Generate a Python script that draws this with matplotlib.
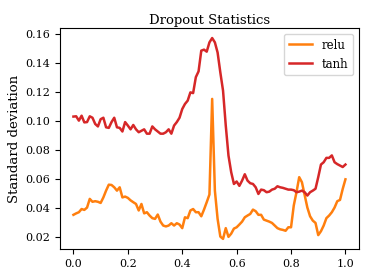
import numpy as np
import matplotlib
matplotlib.use('Agg')
import matplotlib.pyplot as plt

plt.rcParams['font.family'] = 'DejaVu Serif'

# dropout rate, 0.00 .. 1.00 in steps of 0.01
rates = [i / 100 for i in range(101)]

relu_std = [
    0.035, 0.036, 0.0368, 0.039, 0.0384, 0.040, 0.046, 0.044, 0.0444, 0.044,
    0.0432, 0.047, 0.0517, 0.0558, 0.0556, 0.054, 0.0517, 0.054, 0.047, 0.0476,
    0.0467, 0.045, 0.0437, 0.0425, 0.038, 0.0425, 0.036, 0.0368, 0.0345, 0.0327,
    0.0322, 0.0352, 0.0303, 0.0276, 0.027, 0.0276, 0.0292, 0.0276, 0.0292, 0.0283,
    0.0258, 0.0333, 0.0327, 0.038, 0.039, 0.0368, 0.0368, 0.034, 0.0386, 0.0437,
    0.049, 0.115, 0.0517, 0.0322, 0.020, 0.0184, 0.0258, 0.0198, 0.022, 0.0255,
    0.0264, 0.0283, 0.0303, 0.0333, 0.0345, 0.0356, 0.0386, 0.0375, 0.035, 0.035,
    0.0317, 0.031, 0.0303, 0.0294, 0.0276, 0.0258, 0.025, 0.0246, 0.024, 0.0264,
    0.0264, 0.0414, 0.0506, 0.061, 0.0575, 0.0487, 0.040, 0.034, 0.031, 0.0294,
    0.021, 0.0237, 0.0276, 0.0327, 0.0345, 0.0368, 0.040, 0.0444, 0.0453, 0.0529,
    0.0595,
]

tanh_std = [
    0.1028, 0.103, 0.100, 0.1034, 0.0988, 0.099, 0.103, 0.102, 0.0977, 0.096,
    0.101, 0.102, 0.0954, 0.095, 0.099, 0.102, 0.0954, 0.095, 0.0925, 0.099,
    0.0966, 0.094, 0.097, 0.094, 0.092, 0.093, 0.094, 0.091, 0.091, 0.096,
    0.094, 0.0925, 0.091, 0.091, 0.092, 0.094, 0.091, 0.0966, 0.099, 0.102,
    0.108, 0.1115, 0.1138, 0.1195, 0.119, 0.130, 0.134, 0.1483, 0.149, 0.1476,
    0.154, 0.157, 0.154, 0.147, 0.1333, 0.1207, 0.0966, 0.0759, 0.0644, 0.0563,
    0.058, 0.055, 0.0586, 0.063, 0.0586, 0.0568, 0.0563, 0.054, 0.0494, 0.0524,
    0.052, 0.0506, 0.051, 0.0524, 0.053, 0.0547, 0.054, 0.0536, 0.053, 0.0524,
    0.0524, 0.052, 0.0506, 0.051, 0.0517, 0.0506, 0.0483, 0.0506, 0.0517, 0.053,
    0.061, 0.0697, 0.0713, 0.0743, 0.0743, 0.076, 0.0713, 0.070, 0.069, 0.068,
    0.0697,
]

fig = plt.figure(figsize=(3.74, 2.8), dpi=100)
ax = fig.add_axes([0.16, 0.111, 0.8, 0.789])

ax.plot(rates, relu_std, color='#ff7f0e', linewidth=1.8, label='relu')
ax.plot(rates, tanh_std, color='#d62728', linewidth=1.8, label='tanh')

ax.set_title("Dropout Statistics", fontsize=9.5, pad=3)
ax.set_ylabel("Standard deviation", fontsize=9.5, labelpad=3)
ax.set_xticks([0.0, 0.2, 0.4, 0.6, 0.8, 1.0])
ax.set_yticks([0.02, 0.04, 0.06, 0.08, 0.10, 0.12, 0.14, 0.16])
ax.tick_params(labelsize=8)
ax.legend(loc='upper right', fontsize=8.5)

plt.savefig('out.png', dpi=100)
